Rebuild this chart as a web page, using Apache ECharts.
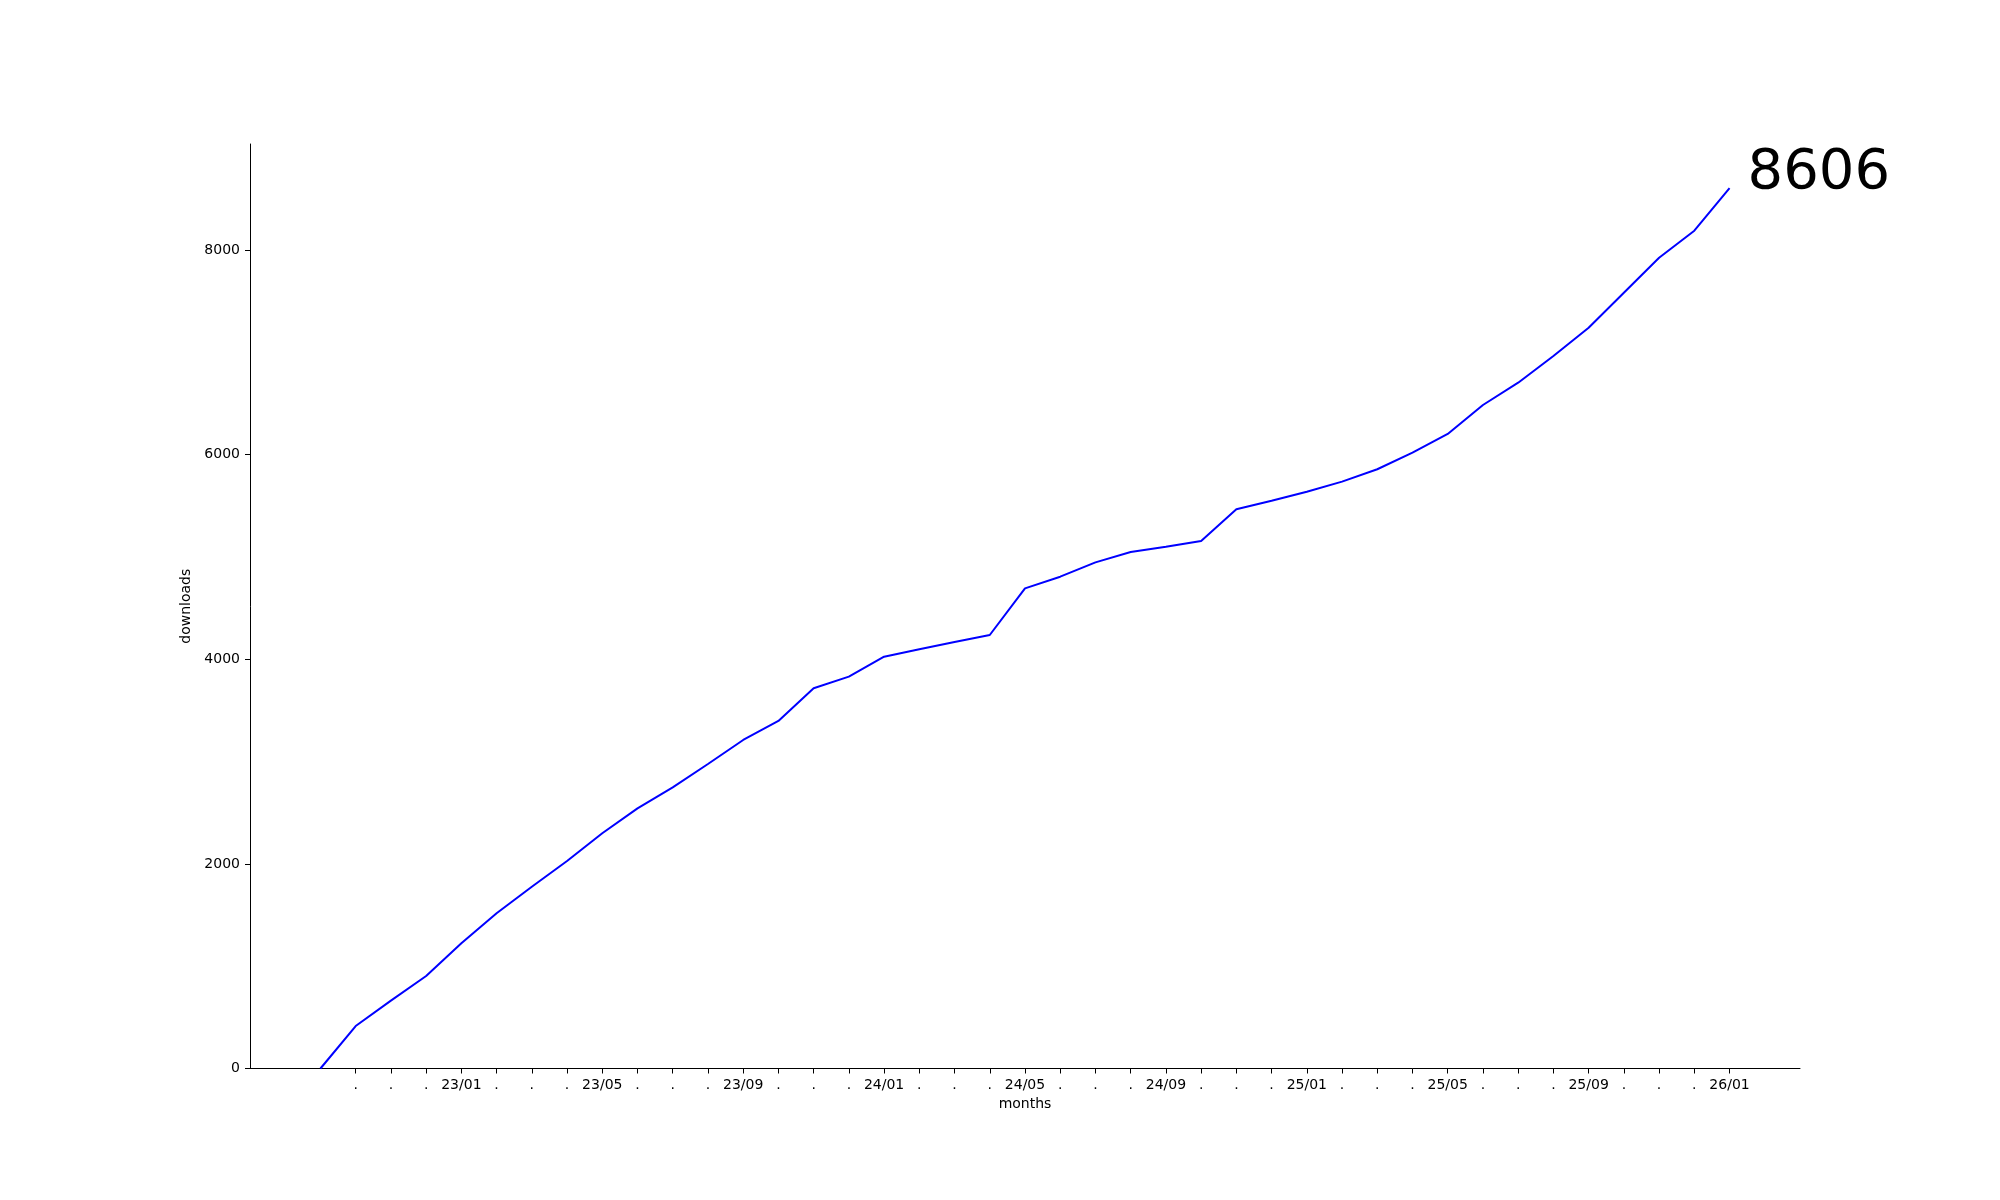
<!DOCTYPE html>
<html>
<head>
<meta charset="utf-8">
<script src="https://cdn.jsdelivr.net/npm/echarts@6/dist/echarts.min.js"></script>
<style>
  html, body { margin: 0; padding: 0; background: #fff; }
  #chart { width: 2000px; height: 1200px; }
</style>
</head>
<body>
<div id="chart"></div>
<script>
const months = [
  "22/09", "22/10", "22/11", "22/12",
  "23/01", "23/02", "23/03", "23/04", "23/05", "23/06", "23/07", "23/08", "23/09", "23/10", "23/11", "23/12",
  "24/01", "24/02", "24/03", "24/04", "24/05", "24/06", "24/07", "24/08", "24/09", "24/10", "24/11", "24/12",
  "25/01", "25/02", "25/03", "25/04", "25/05", "25/06", "25/07", "25/08", "25/09", "25/10", "25/11", "25/12",
  "26/01",
];
const downloads = [
  0, 415, 663, 904,
  1224, 1517, 1777, 2028, 2299, 2543, 2748, 2976, 3211, 3397, 3716, 3830,
  4025, 4097, 4169, 4237, 4693, 4807, 4947, 5048, 5100, 5156, 5466, 5550,
  5638, 5736, 5857, 6019, 6202, 6485, 6703, 6964, 7241, 7583, 7925, 8189,
  8606,
];
const yTicks = [0, 2000, 4000, 6000, 8000];

const FONT = "DejaVu Sans";
const last = downloads.length - 1;
// every month after the first gets a tick, every 4th one a label
const xTicks = months.map((_, i) => i).slice(1);

const chart = echarts.init(document.getElementById("chart"));

chart.setOption({
  animation: false,
  backgroundColor: "#fff",
  grid: { left: 250, right: 200, top: 144, bottom: 131.5 },
  xAxis: {
    type: "value",
    min: -2,
    max: last + 2,
    name: "months",
    nameLocation: "middle",
    nameGap: 27,
    nameTextStyle: { color: "#000", fontFamily: FONT, fontSize: 14 },
    splitLine: { show: false },
    axisLine: { onZero: false, lineStyle: { color: "#000", width: 1 } },
    axisTick: { customValues: xTicks, length: 5, lineStyle: { color: "#000" } },
    axisLabel: {
      customValues: xTicks,
      margin: 10,
      color: "#000",
      fontFamily: FONT,
      fontSize: 14,
      formatter: (v) => (v % 4 === 0 ? months[v] : "."),
    },
  },
  yAxis: {
    type: "value",
    min: 0,
    max: downloads[last] * 1.05,
    name: "downloads",
    nameLocation: "middle",
    nameGap: 50,
    nameTextStyle: { color: "#000", fontFamily: FONT, fontSize: 14 },
    splitLine: { show: false },
    axisLine: { show: true, onZero: false, lineStyle: { color: "#000", width: 1 } },
    axisTick: { show: true, customValues: yTicks, length: 5, lineStyle: { color: "#000" } },
    axisLabel: {
      customValues: yTicks,
      margin: 10,
      color: "#000",
      fontFamily: FONT,
      fontSize: 14,
      formatter: (v) => String(v),
    },
  },
  series: [
    {
      type: "line",
      data: downloads.map((v, i) => [i, v]),
      showSymbol: false,
      lineStyle: { color: "#0000ff", width: 2 },
      markPoint: {
        symbol: "circle",
        symbolSize: 0,
        data: [{ coord: [last, downloads[last]], value: downloads[last] }],
        label: {
          show: true,
          position: [18, -15],
          align: "left",
          verticalAlign: "middle",
          color: "#000",
          fontFamily: FONT,
          fontSize: 56,
          formatter: (p) => String(p.value),
        },
      },
    },
  ],
});
</script>
</body>
</html>
